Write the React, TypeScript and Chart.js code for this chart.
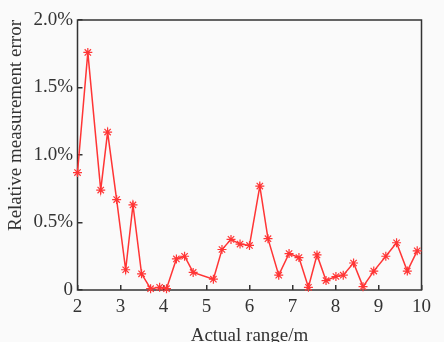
import React, { useEffect, useRef } from 'react';
import { Chart, registerables } from 'chart.js';

Chart.register(...registerables);

// Actual range (m)
const rangeM = [
  2.0, 2.24, 2.54, 2.7, 2.91, 3.12, 3.29, 3.49, 3.7, 3.91, 4.07, 4.3, 4.49, 4.69,
  5.16, 5.36, 5.57, 5.78, 6.0, 6.24, 6.43, 6.68, 6.92, 7.15, 7.37, 7.57, 7.78,
  8.01, 8.18, 8.42, 8.64, 8.89, 9.17, 9.42, 9.67, 9.9,
];
// Relative measurement error (%)
const errorPct = [
  0.87, 1.76, 0.74, 1.17, 0.67, 0.15, 0.63, 0.12, 0.01, 0.02, 0.01, 0.23, 0.25, 0.13,
  0.08, 0.3, 0.375, 0.34, 0.33, 0.77, 0.38, 0.11, 0.27, 0.24, 0.02, 0.26, 0.07,
  0.1, 0.11, 0.2, 0.025, 0.14, 0.25, 0.35, 0.14, 0.29,
];
const xMin = 2;
const xMax = 10;
const yMin = 0;
const yMax = 2;
const xTitle = 'Actual range/m';
const yTitle = 'Relative measurement error';

const FONT = "'Liberation Serif', 'Times New Roman', serif";
const INK = '#333333';
const RED = '#ff3535';

const framePlugin = {
  id: 'frame',
  beforeDatasetsDraw(chart: any) {
    const { ctx, chartArea: a } = chart;
    ctx.save();
    ctx.strokeStyle = INK;
    ctx.lineWidth = 1.5;
    ctx.strokeRect(a.left, a.top, a.right - a.left, a.bottom - a.top);
    ctx.restore();
  },
};

export default function App() {
  const ref = useRef<HTMLCanvasElement | null>(null);

  useEffect(() => {
    if (!ref.current) return;
    const data = rangeM.map((x, i) => ({ x, y: errorPct[i] }));
    const chart = new Chart(ref.current, {
      type: 'line',
      data: {
        datasets: [
          {
            data,
            borderColor: RED,
            backgroundColor: RED,
            borderWidth: 1.5,
            pointStyle: 'star',
            pointRadius: 4.5,
            pointBorderColor: RED,
            pointBorderWidth: 1.2,
            tension: 0,
            clip: false as any,
          },
        ],
      },
      options: {
        animation: false,
        responsive: false,
        layout: { padding: { top: 20, right: 10, left: 0, bottom: 0 } },
        plugins: { legend: { display: false }, tooltip: { enabled: false } },
        scales: {
          x: {
            type: 'linear',
            min: xMin,
            max: xMax,
            afterFit: (s: any) => {
              s.height = 52;
            },
            border: { display: false },
            grid: {
              drawOnChartArea: false,
              drawTicks: true,
              tickLength: -5,
              color: INK,
              lineWidth: 1.5,
            },
            ticks: {
              stepSize: 1,
              padding: 13,
              color: INK,
              font: { family: FONT, size: 19, lineHeight: 1 },
            },
            title: {
              display: true,
              text: xTitle,
              color: INK,
              font: { family: FONT, size: 19, lineHeight: 1 },
              padding: { top: 0, bottom: -4 },
            },
          },
          y: {
            type: 'linear',
            min: yMin,
            max: yMax,
            afterFit: (s: any) => {
              s.width = 77.5;
            },
            border: { display: false },
            grid: {
              drawOnChartArea: false,
              drawTicks: true,
              tickLength: -5,
              color: INK,
              lineWidth: 1.5,
            },
            ticks: {
              stepSize: 0.5,
              padding: 9.5,
              color: INK,
              font: { family: FONT, size: 19, lineHeight: 1 },
              callback: (v: any) => (Number(v) === 0 ? '0' : Number(v).toFixed(1) + '%'),
            },
            title: {
              display: true,
              text: yTitle,
              align: 'end',
              color: INK,
              font: { family: FONT, size: 19, lineHeight: 1 },
              padding: { top: 7, bottom: 0 },
            },
          },
        },
      },
      plugins: [framePlugin],
    });
    return () => chart.destroy();
  }, []);

  return (
    <div
      style={{
        position: 'fixed',
        left: 0,
        top: 0,
        width: 444,
        height: 342,
        background: '#fafafa',
      }}
    >
      <canvas ref={ref} width={444} height={342} style={{ width: 444, height: 342 }} />
    </div>
  );
}
